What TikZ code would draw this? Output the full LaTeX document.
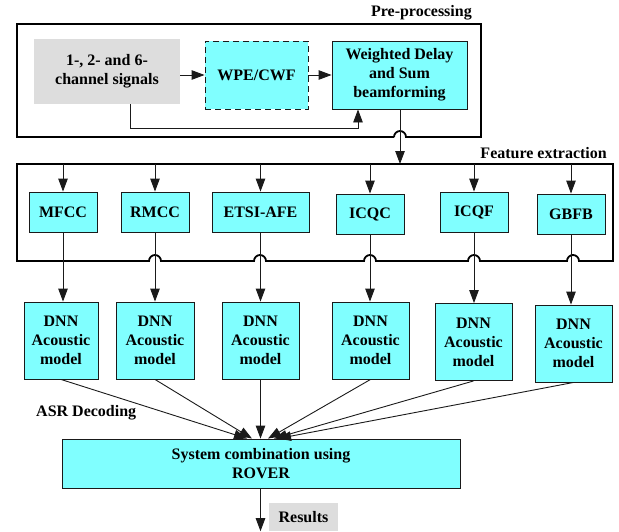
\documentclass[tikz,border=0pt]{standalone}
\usepackage{fontspec}
\setmainfont{Liberation Serif}
\usetikzlibrary{arrows.meta,calc}
\definecolor{cy}{HTML}{80FFFF}
\definecolor{gr}{HTML}{DDDDDD}
\definecolor{bd}{HTML}{1A1A1A}
\begin{document}
\begin{tikzpicture}[x=1pt,y=-1pt,
  font=\fontsize{16}{19}\selectfont\bfseries,
  box/.style={draw=bd,fill=cy,line width=0.9pt,inner sep=0pt,align=center},
  graybox/.style={fill=gr,draw=none,inner sep=0pt,align=center},
  arr/.style={-{Triangle[length=13pt,width=9.5pt]},line width=0.9pt,draw=bd},
  ln/.style={line width=0.9pt,draw=bd},
  frame/.style={line width=1.8pt,draw=black},
  lbl/.style={inner sep=0pt}]
\useasboundingbox (0,0) rectangle (619,531);

% ---------- Pre-processing ----------
\node[lbl,anchor=east] (lpre) at (472,13) {Pre-processing};
\node[graybox,minimum width=146pt,minimum height=65pt] (sig) at (107,71.5) {1-, 2- and 6-\\channel signals};
\node[box,dash pattern=on 6pt off 4pt,minimum width=103pt,minimum height=68pt] (wpe) at (256.5,75) {WPE/CWF};
\node[box,minimum width=135pt,minimum height=68pt] (wds) at (399.5,75) {Weighted Delay\\and Sum\\beamforming};

\coordinate (prehop) at (400,137);
\draw[frame] ($(prehop)+(-6,0)$) -- (17,137) -- (17,24) -- (481,24) -- (481,137) -- ($(prehop)+(6,0)$)
  arc[start angle=0,end angle=-180,radius=6];

\draw[arr] (sig.east |- wpe.west) -- (wpe.west);
\draw[arr] (wpe.east) -- (wds.west);
\coordinate (bpa) at (130,128);
\coordinate (bpb) at (358,128);
\draw[arr] (sig.south -| bpa) -- (bpa) -- (bpb) -- (wds.south -| bpb);

% ---------- Feature extraction ----------
\node[lbl,anchor=east] (lfe) at (607,153) {Feature extraction};
\coordinate (ftop) at (400,164);
\draw[arr] (wds.south -| ftop) -- (ftop);

\node[box,minimum width=68pt,minimum height=40pt] (mfcc) at (63,212) {MFCC};
\node[box,minimum width=68pt,minimum height=40pt] (rmcc) at (155,212) {RMCC};
\node[box,minimum width=97pt,minimum height=40pt] (etsi) at (260.5,212) {ETSI-AFE};
\node[box,minimum width=68pt,minimum height=40pt] (icqc) at (370,214) {ICQC};
\node[box,minimum width=68pt,minimum height=40pt] (icqf) at (474,212) {ICQF};
\node[box,minimum width=68pt,minimum height=40pt] (gbfb) at (571,214) {GBFB};

\draw[frame] (17,261) -- (17,164) -- (613,164) -- (613,261)
  -- (579,261) arc[start angle=0,end angle=-180,radius=6]
  -- (480,261) arc[start angle=0,end angle=-180,radius=6]
  -- (376,261) arc[start angle=0,end angle=-180,radius=6]
  -- (266,261) arc[start angle=0,end angle=-180,radius=6]
  -- (161,261) arc[start angle=0,end angle=-180,radius=6]
  -- cycle;

\foreach \n in {mfcc,rmcc,etsi,icqc,icqf,gbfb}
  \draw[arr] (\n.north |- ftop) -- (\n.north);

% ---------- DNN acoustic models ----------
\node[box,minimum width=74pt,minimum height=77pt] (dnn1) at (61,340.5) {DNN\\Acoustic\\model};
\node[box,minimum width=78pt,minimum height=77pt] (dnn2) at (155,340.5) {DNN\\Acoustic\\model};
\node[box,minimum width=77pt,minimum height=77pt] (dnn3) at (260.5,340.5) {DNN\\Acoustic\\model};
\node[box,minimum width=77pt,minimum height=77pt] (dnn4) at (370.5,340.5) {DNN\\Acoustic\\model};
\node[box,minimum width=77pt,minimum height=77pt] (dnn5) at (473.5,342) {DNN\\Acoustic\\model};
\node[box,minimum width=77pt,minimum height=77pt] (dnn6) at (573.5,343.5) {DNN\\Acoustic\\model};

\draw[arr] (mfcc.south) -- (mfcc.south |- dnn1.north);
\draw[arr] (rmcc.south) -- (rmcc.south |- dnn2.north);
\draw[arr] (etsi.south) -- (etsi.south |- dnn3.north);
\draw[arr] (icqc.south) -- (icqc.south |- dnn4.north);
\draw[arr] (icqf.south) -- (icqf.south |- dnn5.north);
\draw[arr] (gbfb.south) -- (gbfb.south |- dnn6.north);

% ---------- ASR decoding / ROVER ----------
\node[lbl,anchor=west] (lasr) at (36,413) {ASR Decoding};
\node[box,minimum width=398pt,minimum height=49pt] (rover) at (261,463.5) {System combination using\\ROVER};

\draw[arr] (dnn1.south) -- ($(rover.north)+(-14,0)$);
\draw[arr] (dnn2.south) -- ($(rover.north)+(-9,0)$);
\draw[arr] (dnn3.south) -- (dnn3.south |- rover.north);
\draw[arr] (dnn4.south) -- ($(rover.north)+(7,0)$);
\draw[arr] (dnn5.south) -- ($(rover.north)+(13,0)$);
\draw[arr] (dnn6.south) -- ($(rover.north)+(17,0)$);

\node[graybox,minimum width=69pt,minimum height=28pt] (res) at (303.5,517) {Results};
\draw[arr] (rover.south -| dnn3.south) -- (dnn3.south |- res.south);
\end{tikzpicture}
\end{document}
